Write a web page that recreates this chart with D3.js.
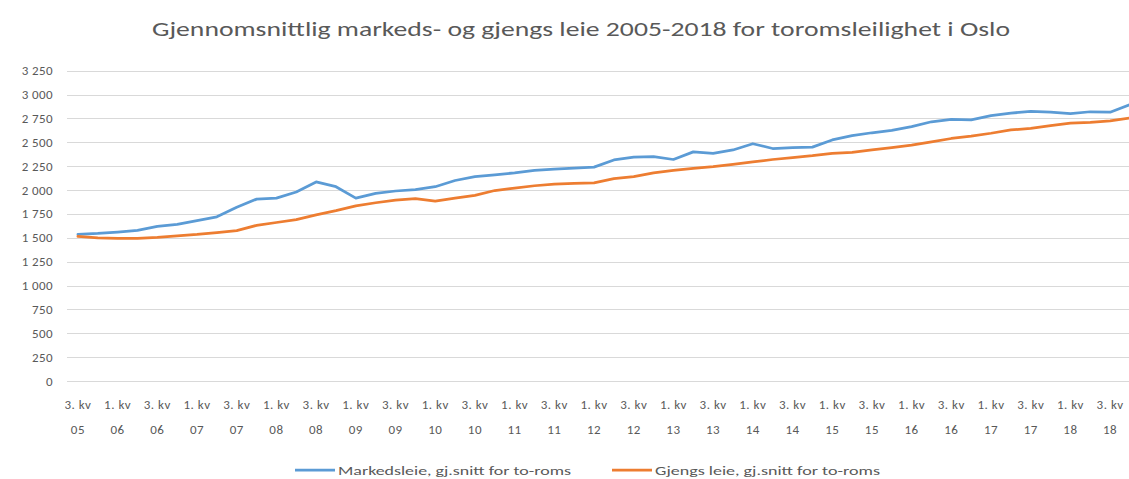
<!DOCTYPE html>
<html>
<head>
<meta charset="utf-8">
<script src="https://cdn.jsdelivr.net/npm/d3@7"></script>
<style>
  html, body { margin: 0; padding: 0; background: #fff; overflow: hidden; }
  text { font-family: Carlito, Calibri, "Open Sans", Lato, sans-serif; fill: #595959; }
</style>
</head>
<body>
<svg id="chart"></svg>
<script>
"use strict";

// ── Data ─────────────────────────────────────────────────────────────────────
const quarters = [
  "3. kv 05", "4. kv 05",
  "1. kv 06", "2. kv 06", "3. kv 06", "4. kv 06",
  "1. kv 07", "2. kv 07", "3. kv 07", "4. kv 07",
  "1. kv 08", "2. kv 08", "3. kv 08", "4. kv 08",
  "1. kv 09", "2. kv 09", "3. kv 09", "4. kv 09",
  "1. kv 10", "2. kv 10", "3. kv 10", "4. kv 10",
  "1. kv 11", "2. kv 11", "3. kv 11", "4. kv 11",
  "1. kv 12", "2. kv 12", "3. kv 12", "4. kv 12",
  "1. kv 13", "2. kv 13", "3. kv 13", "4. kv 13",
  "1. kv 14", "2. kv 14", "3. kv 14", "4. kv 14",
  "1. kv 15", "2. kv 15", "3. kv 15", "4. kv 15",
  "1. kv 16", "2. kv 16", "3. kv 16", "4. kv 16",
  "1. kv 17", "2. kv 17", "3. kv 17", "4. kv 17",
  "1. kv 18", "2. kv 18", "3. kv 18", "4. kv 18"
];

const markedsleie = [
  1535, 1545, 1560, 1578, 1620, 1640, 1680, 1720, 1820, 1905,
  1915, 1980, 2085, 2035, 1915, 1965, 1990, 2005, 2035, 2100,
  2140, 2160, 2180, 2205, 2220, 2230, 2240, 2315, 2345, 2350,
  2320, 2400, 2385, 2420, 2485, 2435, 2445, 2450, 2525, 2570,
  2600, 2625, 2665, 2715, 2740, 2735, 2780, 2805, 2825, 2815,
  2800, 2820, 2815, 2895
];

const gjengsleie = [
  1515, 1500, 1495, 1495, 1505, 1520, 1535, 1555, 1575, 1630,
  1660, 1690, 1740, 1785, 1835, 1867, 1895, 1910, 1885, 1915,
  1945, 1995, 2020, 2045, 2063, 2070, 2075, 2120, 2140, 2180,
  2205, 2228, 2245, 2270, 2295, 2320, 2340, 2360, 2385, 2395,
  2420, 2445, 2470, 2505, 2540, 2565, 2595, 2630, 2645, 2675,
  2700, 2710, 2725, 2755
];

const yTicks = [0, 250, 500, 750, 1000, 1250, 1500, 1750, 2000, 2250, 2500, 2750, 3000, 3250];

const seriesList = [
  { name: "Markedsleie, gj.snitt for to-roms", values: markedsleie, color: "#5B9BD5" },
  { name: "Gjengs leie, gj.snitt for to-roms", values: gjengsleie, color: "#ED7D31" }
];

const chartTitle = "Gjennomsnittlig markeds- og gjengs leie 2005-2018 for toromsleilighet i Oslo";

// ── Layout ───────────────────────────────────────────────────────────────────
const W = 1129, H = 479;
const plotLeft = 68, plotRight = 68 + quarters.length * 19.85;
const plotTop = 70.7, plotBottom = 381;

const svg = d3.select("#chart")
  .attr("width", W)
  .attr("height", H);

const x = d3.scalePoint()
  .domain(quarters)
  .range([plotLeft, plotRight])
  .padding(0.5);

const y = d3.scaleLinear()
  .domain([0, 3250])
  .range([plotBottom, plotTop]);

const fmt = v => d3.format(",")(v).replace(/,/g, " ");

// ── Title ────────────────────────────────────────────────────────────────────
svg.append("text")
  .attr("x", 581)
  .attr("y", 36)
  .attr("text-anchor", "middle")
  .attr("font-size", "20px")
  .attr("textLength", 858)
  .attr("lengthAdjust", "spacingAndGlyphs")
  .text(chartTitle);

// ── Gridlines + y labels ─────────────────────────────────────────────────────
const yAxis = svg.append("g").attr("class", "y-axis");

yAxis.selectAll("line")
  .data(yTicks)
  .enter().append("line")
  .attr("x1", plotLeft - 1)
  .attr("x2", W)
  .attr("y1", d => Math.round(y(d)) + 0.5)
  .attr("y2", d => Math.round(y(d)) + 0.5)
  .attr("stroke", "#D9D9D9")
  .attr("stroke-width", 1);

yAxis.selectAll("text")
  .data(yTicks)
  .enter().append("text")
  .attr("x", 53)
  .attr("y", d => y(d) + 4.5)
  .attr("text-anchor", "end")
  .attr("font-size", "13px")
  .attr("letter-spacing", "0.4px")
  .text(fmt);

// ── X labels (every other quarter) ───────────────────────────────────────────
const xLabels = svg.append("g").attr("class", "x-axis")
  .selectAll("text")
  .data(quarters.filter((_, i) => i % 2 === 0))
  .enter().append("text")
  .attr("text-anchor", "middle")
  .attr("font-size", "13px")
  .attr("letter-spacing", "0.5px");

xLabels.append("tspan")
  .attr("x", d => x(d))
  .attr("y", 409)
  .text(d => d.slice(0, 5));

xLabels.append("tspan")
  .attr("x", d => x(d))
  .attr("y", 434)
  .text(d => d.slice(6));

// ── Lines ────────────────────────────────────────────────────────────────────
const line = d3.line()
  .x((d, i) => x(quarters[i]))
  .y(d => y(d));

svg.selectAll(".series")
  .data(seriesList)
  .enter().append("path")
  .attr("class", "series")
  .attr("fill", "none")
  .attr("stroke", d => d.color)
  .attr("stroke-width", 2.75)
  .attr("stroke-linejoin", "round")
  .attr("stroke-linecap", "round")
  .attr("d", d => line(d.values));

// ── Legend ───────────────────────────────────────────────────────────────────
const legendPos = [295, 612];

const legend = svg.selectAll(".legend-item")
  .data(seriesList)
  .enter().append("g")
  .attr("class", "legend-item")
  .attr("transform", (_, i) => `translate(${legendPos[i]}, 470)`);

legend.append("line")
  .attr("x1", 0)
  .attr("x2", 40)
  .attr("stroke", d => d.color)
  .attr("stroke-width", 2.75);

legend.append("text")
  .attr("x", 43)
  .attr("y", 4.5)
  .attr("font-size", "13px")
  .attr("textLength", (_, i) => [233, 225][i])
  .attr("lengthAdjust", "spacingAndGlyphs")
  .text(d => d.name);
</script>
</body>
</html>
